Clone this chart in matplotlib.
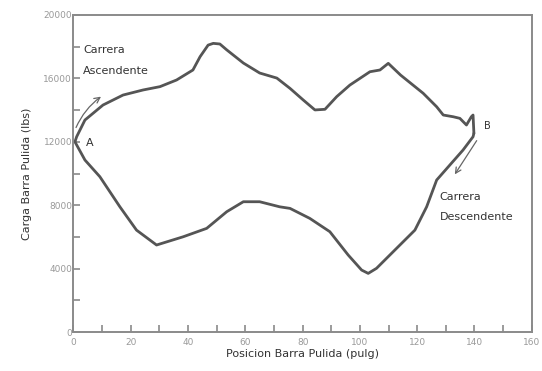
import matplotlib.pyplot as plt
from matplotlib.ticker import MultipleLocator

# Carta dinamometrica: posicion (pulg) vs carga (lbs)
up_x = [0.5, 1.1, 4, 10.3, 17.3, 24.3, 30.2, 36, 41.7, 44.2, 47, 48.8, 51.1, 53.5,
        59.3, 65, 71, 75.6, 80.2, 84.3, 87.8, 91.9, 96.5, 103.5, 107, 109.9, 114.2,
        122.1, 126.8, 129.1, 132.6, 134.9, 137.2, 138.9, 139.5, 139.8]
up_y = [12000, 12320, 13375, 14320, 14950, 15270, 15480, 15900, 16530, 17370, 18100,
        18210, 18170, 17800, 16970, 16340, 16020, 15370, 14640, 14010, 14050, 14850,
        15580, 16420, 16530, 16950, 16210, 15060, 14210, 13690, 13580, 13480, 13060,
        13580, 13690, 12540]

down_x = [139.8, 139.5, 136, 126.8, 123.3, 119.2, 112.8, 105.8, 102.9, 100.6, 95.9,
          89.5, 82.5, 75.6, 72, 65, 59.3, 53.5, 46.5, 38.3, 29, 22, 16.2, 9.2, 4, 0.5]
down_y = [12540, 12320, 11480, 9590, 7900, 6430, 5280, 4020, 3700, 3910, 4860, 6330,
          7170, 7800, 7900, 8220, 8220, 7590, 6540, 6010, 5490, 6430, 7900, 9800,
          10850, 12000]

x_ticks = list(range(0, 161, 20))
y_ticks = list(range(0, 20001, 4000))

line_col = "#555555"
axis_col = "#8a8a8a"

plt.rcParams["font.family"] = ["DejaVu Sans"]

fig = plt.figure(figsize=(5.42, 3.71), dpi=100)
ax = fig.add_axes([0.1356, 0.105, 0.8455, 0.8546])

ax.plot(up_x, up_y, color=line_col, lw=2.0, solid_joinstyle="round", solid_capstyle="round")
ax.plot(down_x, down_y, color=line_col, lw=2.0, solid_joinstyle="round", solid_capstyle="round")

ax.set_xlim(0, 160)
ax.set_ylim(0, 20000)
ax.set_xticks(x_ticks)
ax.set_yticks(y_ticks)
ax.xaxis.set_minor_locator(MultipleLocator(10))
ax.yaxis.set_minor_locator(MultipleLocator(2000))
ax.tick_params(which="both", direction="in", color=axis_col, width=1.2,
               labelsize=6.5, labelcolor="#999999")
ax.tick_params(which="major", length=5)
ax.tick_params(which="minor", length=5)
ax.tick_params(axis="x", pad=4)
ax.tick_params(axis="y", pad=1)
for s in ax.spines.values():
    s.set_color(axis_col)
    s.set_linewidth(1.4)

ax.set_xlabel("Posicion Barra Pulida (pulg)", fontsize=8, color="#333333", labelpad=2)
ax.set_ylabel("Carga Barra Pulida (lbs)", fontsize=8, color="#333333", labelpad=8)

# anotaciones
ax.text(3.3, 17800, "Carrera", fontsize=8, color="#333333", va="center")
ax.text(3.3, 16450, "Ascendente", fontsize=8, color="#333333", va="center")
ax.text(127.9, 8540, "Carrera", fontsize=8, color="#333333", va="center")
ax.text(127.9, 7270, "Descendente", fontsize=8, color="#333333", va="center")
ax.text(4.2, 11900, "A", fontsize=8, color="#333333", va="center")
ax.text(143.5, 13000, "B", fontsize=7, color="#333333", va="center")

ax.annotate("", xy=(10.4, 14950), xytext=(0.5, 12740),
            arrowprops=dict(arrowstyle="->", color="#666666", lw=0.9,
                            connectionstyle="arc3,rad=-0.15"))
ax.annotate("", xy=(132.6, 9800), xytext=(141.3, 12220),
            arrowprops=dict(arrowstyle="->", color="#666666", lw=0.9))

fig.savefig("out.png", dpi=100)
